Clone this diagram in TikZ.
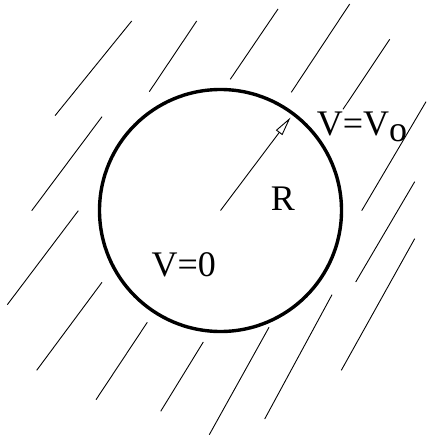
\documentclass[tikz,border=0pt]{standalone}
\usepackage{fontspec}
\setmainfont{Liberation Serif}
\usetikzlibrary{arrows.meta}
\tikzset{
  hatch/.style={line width=0.9pt},
  sphere/.style={line width=3.4pt},
  lbl/.style={font=\fontsize{36}{42}\selectfont, inner sep=0pt}
}
\begin{document}
\begin{tikzpicture}[x=1pt,y=-1pt]
    \useasboundingbox (0,0) rectangle (426,436);
    % Hatching outside the sphere
    \foreach \xa/\ya/\xb/\yb in {55/115.7/131.7/21, 149.3/91.7/196.7/21,
        31.7/210.7/102/116.7, 7.3/304.7/78.3/210.7, 230.3/79.3/278/9,
        291.3/92.3/349.7/4, 343/109.3/389.7/39.3, 361.7/210.7/426/101.7,
        355.7/282/414.7/181.7, 341.3/370.3/414.7/238.7, 264.7/419/332/294.7,
        209.3/434.7/269/327.3, 36.7/370.3/102/282.3, 96/399.7/147.3/322.3,
        160.7/411.3/203.3/342} {
        \draw[hatch] (\xa,\ya) -- (\xb,\yb);
    }
    % Sphere
    \coordinate (centre) at (220.5,210.5);
    \coordinate (rim) at (290.5,117.5);
    \draw[sphere] (centre) circle[radius=121];
    % Radius
    \draw[hatch, -{Triangle[open, length=19pt, width=8pt]}] (centre) -- (rim);
    % Labels
    \node[lbl, anchor=base] (rlabel) at (282.8,210) {R};
    \node[lbl, anchor=base] (inside) at (183.8,276) {V=0};
    \node[lbl, anchor=base west] (outside) at (316.7,135.7) {V=V\raisebox{-5.5pt}{o}};
\end{tikzpicture}
\end{document}
